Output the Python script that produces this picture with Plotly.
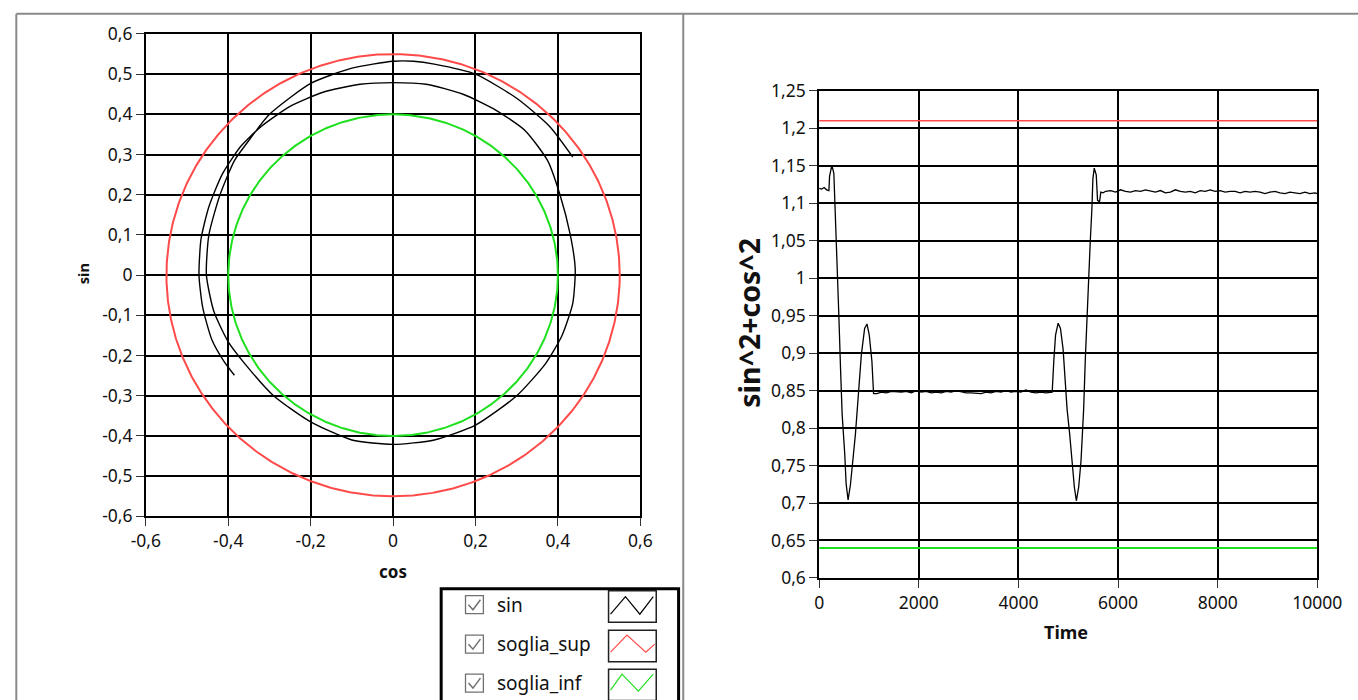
import numpy as np
import plotly.graph_objects as go

W, H = 1358, 700

# ---------------- data: XY graph (left) ----------------
sin_cos = [-0.385, -0.41, -0.44, -0.462, -0.471, -0.466, -0.447, -0.415, -0.37,
           -0.32, -0.25, -0.17, -0.08, 0.0, 0.08, 0.17, 0.25, 0.32, 0.375, 0.405,
           0.43, 0.442, 0.436, 0.41, 0.37, 0.30, 0.2, 0.1, 0.0, -0.1, -0.2, -0.29,
           -0.36, -0.40, -0.435, -0.453, -0.447, -0.42, -0.385, -0.35,
           -0.30, -0.2, -0.1, 0.0, 0.05, 0.1, 0.2, 0.3, 0.38, 0.436]
sin_sin = [-0.249, -0.215, -0.16, -0.08, 0.0, 0.09, 0.17, 0.25, 0.32,
           0.37, 0.42, 0.455, 0.475, 0.479, 0.475, 0.45, 0.41, 0.36, 0.285, 0.2,
           0.1, 0.016, -0.07, -0.15, -0.22, -0.30, -0.373, -0.41, -0.421, -0.41, -0.365, -0.30,
           -0.22, -0.166, -0.09, 0.0, 0.1, 0.2, 0.285, 0.335,
           0.40, 0.477, 0.515, 0.532, 0.532, 0.525, 0.50, 0.44, 0.37, 0.294]
soglia_sup_radius = 0.55
soglia_inf_radius = 0.40
xy_x_ticks = [-0.6, -0.4, -0.2, 0.0, 0.2, 0.4, 0.6]
xy_y_ticks = [-0.6, -0.5, -0.4, -0.3, -0.2, -0.1, 0.0, 0.1, 0.2, 0.3, 0.4, 0.5, 0.6]

# ---------------- data: waveform graph (right) ----------------
time_vals = [0, 50, 100, 150, 196, 209, 249, 262, 295, 329, 362, 395, 428, 462, 515, 541,
             581, 627, 727, 793, 847, 913, 960, 1006, 1059, 1092, 1159,
             1250, 1350, 1450, 1550, 1650, 1750, 1850, 1950, 2050, 2150, 2250, 2350,
             2450, 2550, 2650, 2750, 2850, 2950, 3050, 3150, 3250, 3350, 3450, 3550,
             3650, 3750, 3850, 3950, 4050, 4150, 4250, 4350, 4450, 4550, 4650,
             4678, 4711, 4745, 4797, 4844, 4897, 4944, 4977, 5030, 5077, 5123, 5163,
             5209, 5256, 5309, 5342, 5375, 5408, 5442, 5475, 5495, 5522, 5562, 5588,
             5628, 5654, 5700,
             5750, 5850, 5950, 6050, 6150, 6250, 6350, 6450, 6550, 6650, 6750, 6850,
             6950, 7050, 7150, 7250, 7350, 7450, 7550, 7650, 7750, 7850, 7950, 8050,
             8150, 8250, 8350, 8450, 8550, 8650, 8750, 8850, 8950, 9050, 9150, 9250,
             9350, 9450, 9550, 9650, 9750, 9850, 9950, 10000]
ssq_vals = [1.120, 1.119, 1.121, 1.118, 1.117, 1.136, 1.149, 1.149, 1.140, 1.080, 1.029,
            0.951, 0.882, 0.818, 0.764, 0.726, 0.704, 0.724, 0.791, 0.853, 0.898, 0.933,
            0.939, 0.924, 0.889, 0.846, 0.846,
            0.848, 0.847, 0.849, 0.848, 0.848, 0.849, 0.847, 0.850, 0.848, 0.849, 0.847,
            0.848, 0.847, 0.849, 0.848, 0.850, 0.848, 0.847, 0.847, 0.846, 0.846, 0.848,
            0.847, 0.849, 0.848, 0.850, 0.848, 0.849, 0.848, 0.851, 0.848, 0.847, 0.848,
            0.847, 0.848,
            0.848, 0.891, 0.924, 0.940, 0.933, 0.905, 0.849, 0.825, 0.791, 0.749, 0.721,
            0.703, 0.721, 0.756, 0.825, 0.891, 0.951, 1.004, 1.049, 1.093, 1.133, 1.147,
            1.138, 1.104, 1.102, 1.115, 1.114,
            1.116, 1.117, 1.115, 1.118, 1.116, 1.115, 1.117, 1.116, 1.118, 1.116, 1.115,
            1.117, 1.114, 1.115, 1.118, 1.116, 1.115, 1.116, 1.114, 1.117, 1.116, 1.118,
            1.116, 1.117, 1.115, 1.116, 1.116, 1.114, 1.116, 1.115, 1.116, 1.115, 1.113,
            1.115, 1.116, 1.114, 1.113, 1.115, 1.114, 1.113, 1.115, 1.113, 1.114, 1.113]
time_range = [0, 10000]
soglia_sup_level = 1.21
soglia_inf_level = 0.64
time_ticks = [0, 2000, 4000, 6000, 8000, 10000]
ssq_ticks = [0.6, 0.65, 0.7, 0.75, 0.8, 0.85, 0.9, 0.95, 1.0, 1.05, 1.1, 1.15, 1.2, 1.25]

legend_names = ["sin", "soglia_sup", "soglia_inf"]

# ---------------- styling ----------------
BLACK = "#000000"
RED = "#ff4a4a"
GREEN = "#1fe01f"
FONT = "Noto Sans"
TXT = "#111111"

# the captured picture shows the page slightly reduced and offset; compensate
SX, SY, OX, OY = 0.977, 0.967, 14.0, 11.0


def fmt(v):
    s = f"{v:.2f}".rstrip("0").rstrip(".")
    if s in ("-0", ""):
        s = "0"
    return s.replace(".", ",")


def px(x):
    return (x - OX) / (SX * W)


def py(y):
    return 1 - (y - OY) / (SY * H)


theta = np.linspace(0, 2 * np.pi, 721)

fig = go.Figure()
fig.add_trace(go.Scatter(x=sin_cos, y=sin_sin, mode="lines", name=legend_names[0],
                         line=dict(color=BLACK, width=1.4, shape="spline", smoothing=0.6),
                         xaxis="x", yaxis="y", showlegend=False))
fig.add_trace(go.Scatter(x=soglia_sup_radius * np.cos(theta), y=soglia_sup_radius * np.sin(theta),
                         mode="lines", name=legend_names[1], line=dict(color=RED, width=2),
                         xaxis="x", yaxis="y", showlegend=False))
fig.add_trace(go.Scatter(x=soglia_inf_radius * np.cos(theta), y=soglia_inf_radius * np.sin(theta),
                         mode="lines", name=legend_names[2], line=dict(color=GREEN, width=2),
                         xaxis="x", yaxis="y", showlegend=False))

fig.add_trace(go.Scatter(x=time_vals, y=ssq_vals, mode="lines", line=dict(color=BLACK, width=1.3),
                         xaxis="x2", yaxis="y2", showlegend=False))
fig.add_trace(go.Scatter(x=time_range, y=[soglia_sup_level] * 2, mode="lines",
                         line=dict(color=RED, width=1.5), xaxis="x2", yaxis="y2", showlegend=False))
fig.add_trace(go.Scatter(x=time_range, y=[soglia_inf_level] * 2, mode="lines",
                         line=dict(color=GREEN, width=1.8), xaxis="x2", yaxis="y2", showlegend=False))

axis_common = dict(showgrid=True, gridcolor=BLACK, gridwidth=1.6, showline=True, mirror=True,
                   linecolor=BLACK, linewidth=1.6, ticks="outside", ticklen=8, tickwidth=1.2,
                   tickcolor="#333333", zeroline=False, fixedrange=True, ticklabeloverflow="allow",
                   tickfont=dict(family=FONT, size=17.5, color=TXT))

fig.update_layout(
    width=W, height=H, autosize=False, margin=dict(l=0, r=0, t=0, b=0, pad=0),
    paper_bgcolor="white", plot_bgcolor="white",
    xaxis=dict(domain=[px(145.7), px(643.5)], range=[-0.6, 0.6], anchor="y",
               tickvals=xy_x_ticks, ticktext=[fmt(v) for v in xy_x_ticks], **axis_common),
    yaxis=dict(domain=[py(515), py(32)], range=[-0.6, 0.6], anchor="x",
               tickvals=xy_y_ticks, ticktext=[fmt(v) for v in xy_y_ticks], **axis_common),
    xaxis2=dict(domain=[px(823.5), px(1325)], range=time_range, anchor="y2",
                tickvals=time_ticks, ticktext=[str(v) for v in time_ticks], **axis_common),
    yaxis2=dict(domain=[py(576.7), py(89)], range=[0.6, 1.25], anchor="x2",
                tickvals=ssq_ticks, ticktext=[fmt(v) for v in ssq_ticks], **axis_common),
)

ann = []
common_ann = dict(showarrow=False, xref="paper", yref="paper", xanchor="center", yanchor="middle")
ann.append(dict(x=px(395), y=py(570), text="<b>cos</b>", font=dict(family=FONT, size=17, color=TXT),
                **common_ann))
ann.append(dict(x=px(82), y=py(272), text="<b>sin</b>", textangle=-90,
                font=dict(family=FONT, size=14.5, color=TXT), **common_ann))
ann.append(dict(x=px(1072), y=py(631), text="<b>Time</b>", font=dict(family=FONT, size=18, color=TXT),
                **common_ann))
ann.append(dict(x=px(752), y=py(321), text="<b>sin^2+cos^2</b>", textangle=-90,
                font=dict(family=FONT, size=28.5, color=TXT), **common_ann))

shapes = []
GRAY = "#8a8a8a"
bx = max(px(10), 0.001)
by = min(py(10), 0.999)
# panel borders
shapes.append(dict(type="line", xref="paper", yref="paper", x0=bx, x1=bx, y0=by, y1=-0.05,
                   line=dict(color=GRAY, width=2)))
shapes.append(dict(type="line", xref="paper", yref="paper", x0=bx, x1=1.05, y0=by, y1=by,
                   line=dict(color=GRAY, width=2)))
shapes.append(dict(type="line", xref="paper", yref="paper", x0=px(686.7), x1=px(686.7), y0=by, y1=-0.05,
                   line=dict(color=GRAY, width=2)))

# custom legend box
shapes.append(dict(type="rect", xref="paper", yref="paper", x0=px(443), x1=px(682), y0=py(587.5), y1=-0.05,
                   line=dict(color=BLACK, width=3), fillcolor="white"))
row_y = [603.5, 643, 682]
zig = [
    [(613.5, 613), (628.5, 595.5), (643, 613), (656.5, 595.5)],
    [(613.5, 651), (630, 634), (649, 651), (658, 643)],
    [(613.5, 689), (625, 673), (641.5, 690), (656.5, 673)],
]
colors = [BLACK, RED, GREEN]
for i, yc in enumerate(row_y):
    # checkbox
    shapes.append(dict(type="rect", xref="paper", yref="paper", x0=px(467.5), x1=px(485.5),
                       y0=py(yc - 9), y1=py(yc + 9), line=dict(color="#707070", width=1.3),
                       fillcolor="white"))
    path = f"M {px(470.5)} {py(yc)} L {px(475)} {py(yc + 5)} L {px(482.5)} {py(yc - 5)}"
    shapes.append(dict(type="path", xref="paper", yref="paper", path=path,
                       line=dict(color="#707070", width=1.5)))
    # swatch box
    shapes.append(dict(type="rect", xref="paper", yref="paper", x0=px(611.5), x1=px(659.5),
                       y0=py(yc - 14), y1=py(yc + 17.5), line=dict(color="#202020", width=1.5),
                       fillcolor="white"))
    pts = zig[i]
    path = "M " + " L ".join(f"{px(a)} {py(b)}" for a, b in pts)
    shapes.append(dict(type="path", xref="paper", yref="paper", path=path,
                       line=dict(color=colors[i], width=1.2)))
    ann.append(dict(x=px(497), y=py(yc), text=legend_names[i], showarrow=False, xref="paper",
                    yref="paper", xanchor="left", yanchor="middle",
                    font=dict(family=FONT, size=19, color=TXT)))

fig.update_layout(shapes=shapes, annotations=ann)

post = ("document.documentElement.style.margin='0';document.body.style.margin='0';"
        "document.body.style.overflow='hidden';")
fig.write_html("out.html", config={"displayModeBar": False}, post_script=post)
